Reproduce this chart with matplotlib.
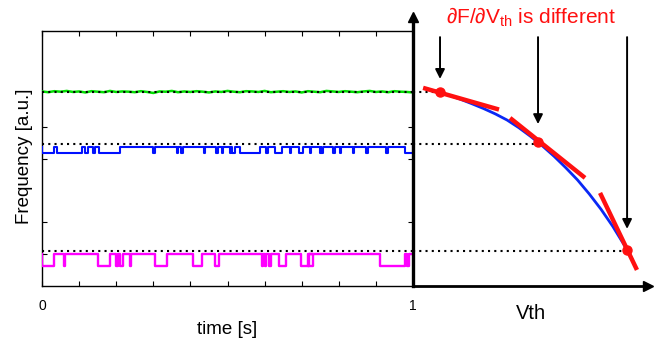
import numpy as np
import matplotlib
matplotlib.use("Agg")
import matplotlib.pyplot as plt

plt.rcParams['font.family'] = ['Liberation Sans', 'DejaVu Sans']
plt.rcParams['mathtext.fontset'] = 'custom'
plt.rcParams['mathtext.rm'] = 'Liberation Sans'
plt.rcParams['mathtext.it'] = 'Liberation Sans'

# ---------------- data ----------------
# green (stable) trace: values read along time
green_t = np.linspace(0, 1, 61)
green_f = [0.763, 0.760, 0.764, 0.762, 0.765, 0.761, 0.763, 0.759, 0.764, 0.762,
           0.760, 0.765, 0.761, 0.763, 0.762, 0.760, 0.764, 0.761, 0.757, 0.763,
           0.762, 0.765, 0.760, 0.763, 0.761, 0.764, 0.762, 0.759, 0.763, 0.761,
           0.765, 0.762, 0.760, 0.764, 0.763, 0.761, 0.765, 0.760, 0.762, 0.764,
           0.761, 0.763, 0.759, 0.764, 0.762, 0.760, 0.765, 0.763, 0.761, 0.764,
           0.762, 0.760, 0.763, 0.765, 0.761, 0.763, 0.760, 0.764, 0.762, 0.761, 0.759]

# blue trace: two-level telegraph signal
blue_high, blue_low = 0.546, 0.521
blue_low_intervals = [(0.0, 0.031), (0.040, 0.107), (0.116, 0.125), (0.154, 0.210),
                      (0.513, 0.520), (0.535, 0.587), (0.628, 0.648), (0.692, 0.704),
                      (0.872, 0.879), (0.978, 1.0)]
blue_spikes = [0.138, 0.300, 0.363, 0.376, 0.436, 0.470, 0.484, 0.506, 0.605, 0.668,
               0.722, 0.749, 0.753, 0.785, 0.803, 0.838, 0.928]

# magenta trace
mag_high, mag_low = 0.125, 0.078
mag_low_intervals = [(0.0, 0.031), (0.150, 0.183), (0.199, 0.205), (0.211, 0.218),
                     (0.304, 0.336), (0.406, 0.430), (0.466, 0.477), (0.639, 0.657),
                     (0.699, 0.731), (0.910, 0.978)]
mag_spikes = [0.058, 0.237, 0.592, 0.601, 0.612, 0.716, 0.985]

# reference levels (dotted lines) and operating points
levels = [0.761, 0.557, 0.138]
op_v = [0.115, 0.532, 0.911]
op_f = [0.762, 0.564, 0.142]

# F(Vth) curve
curve_v = [0.05, 0.10, 0.15, 0.20, 0.25, 0.30, 0.35, 0.40, 0.45, 0.50,
           0.55, 0.60, 0.65, 0.70, 0.75, 0.80, 0.85, 0.90, 0.935]
curve_f = [0.775, 0.763, 0.749, 0.733, 0.715, 0.696, 0.675, 0.651, 0.621, 0.587,
           0.550, 0.509, 0.464, 0.416, 0.361, 0.301, 0.234, 0.159, 0.100]

# tangent segments (start V, start F, end V, end F)
tangents = [(0.043, 0.777, 0.366, 0.692),
            (0.413, 0.659, 0.732, 0.424),
            (0.796, 0.365, 0.953, 0.063)]

arrow_top = 0.976
arrow_tips = [0.812, 0.635, 0.224]

yticks = [0.125, 0.25, 0.5, 0.625]


def telegraph(high, low, intervals, spikes, width=0.004):
    segs = [(a, b) for a, b in intervals] + [(s, s + width) for s in spikes]
    segs.sort()
    xs, ys = [0.0], [high]
    for a, b in segs:
        xs += [a, a, b, b]
        ys += [high, low, low, high]
    xs.append(1.0)
    ys.append(high)
    return np.array(xs), np.array(ys)


fig = plt.figure(figsize=(6.57, 3.42), dpi=100)
W, H = 657, 342
axL = fig.add_axes([42 / W, (H - 286) / H, 371 / W, 255 / H])
axR = fig.add_axes([413 / W, (H - 286) / H, 235 / W, 269 / H])

# ---- left panel ----
axL.set_xlim(0, 1)
axL.set_ylim(0, 1)
for lv in levels:
    axL.plot([0, 1], [lv, lv], color='black', ls=(0, (1, 2)), lw=1.5, zorder=4)
axL.plot(green_t, green_f, color='#00e000', lw=1.8, zorder=3)
bx, by = telegraph(blue_high, blue_low, blue_low_intervals, blue_spikes)
axL.plot(bx, by, color='#0010ff', lw=1.5, zorder=3)
mx, my = telegraph(mag_high, mag_low, mag_low_intervals, mag_spikes)
axL.plot(mx, my, color='#ff00ff', lw=1.7, zorder=3)

axL.set_xticks(np.linspace(0, 1, 11))
axL.set_xticklabels(['0'] + [''] * 9 + ['1'])
axL.set_yticks(yticks)
axL.set_yticklabels([])
axL.tick_params(direction='in', top=True, right=True, length=3.5, width=0.8,
                labelsize=10, pad=9)
for s in axL.spines.values():
    s.set_linewidth(1.0)
axL.set_xlabel('time [s]', fontsize=13.5, labelpad=6)
axL.set_ylabel('Frequency [a.u.]', fontsize=13.5)
axL.yaxis.set_label_coords(-9 / 371, 0.51)

# ---- right panel ----
axR.set_xlim(0, 1)
axR.set_ylim(0, 269 / 255)
axR.patch.set_alpha(0)
axR.spines['top'].set_visible(False)
axR.spines['right'].set_visible(False)
axR.spines['left'].set_linewidth(2.4)
axR.spines['bottom'].set_linewidth(2.0)
axR.set_xticks([])
axR.set_yticks([])
axR.plot([0], [1], marker='^', color='black', ms=7, transform=axR.transAxes,
         clip_on=False)
axR.plot([1], [0], marker='>', color='black', ms=7, transform=axR.transAxes,
         clip_on=False)

for lv, v in zip(levels, op_v):
    axR.plot([0, v], [lv, lv], color='black', ls=(0, (1, 2)), lw=1.5, zorder=2)

axR.plot(curve_v, curve_f, color='#0a28f5', lw=2.0, zorder=3,
         solid_capstyle='round', solid_joinstyle='round')
for v0, f0, v1, f1 in tangents:
    axR.plot([v0, v1], [f0, f1], color='#ff1010', lw=3.2, zorder=4,
             solid_capstyle='butt')
axR.plot(op_v, op_f, 'o', color='#ff1010', ms=6.5, zorder=5)

for v, tip in zip(op_v, arrow_tips):
    axR.annotate('', xy=(v, tip), xytext=(v, arrow_top),
                 arrowprops=dict(arrowstyle='-|>', color='black', lw=1.4,
                                 mutation_scale=14, shrinkA=0, shrinkB=0))

axR.text(0.502, 1.0, '∂F/∂V$_{\\mathrm{th}}$ is different', color='#ff1010',
         fontsize=15, ha='center', va='center', transform=axR.transAxes)
axR.set_xlabel('Vth', fontsize=14.5, labelpad=13)

fig.savefig('out.png', dpi=100)
